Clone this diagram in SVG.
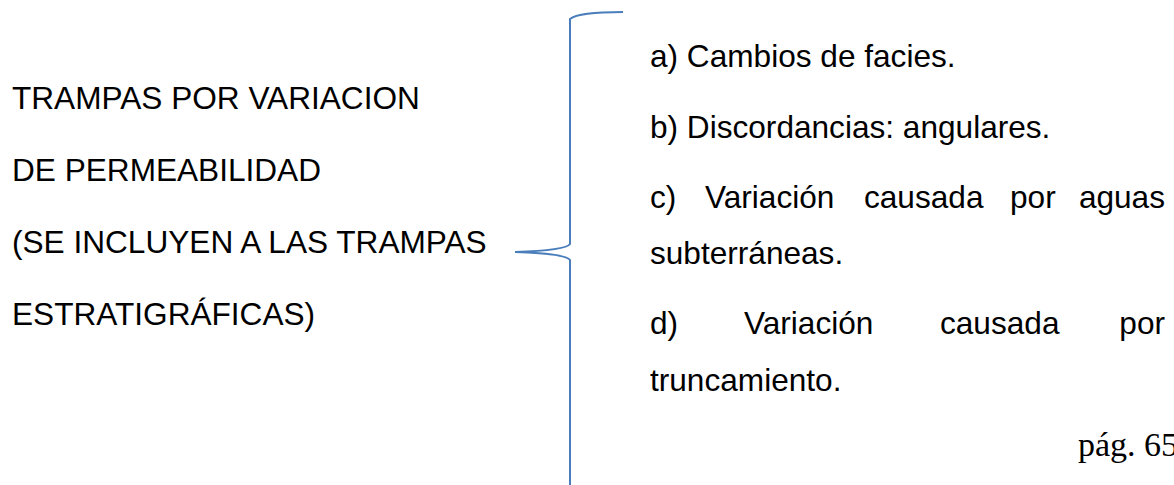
<svg xmlns="http://www.w3.org/2000/svg" width="1174" height="485" viewBox="0 0 1174 485">
<style>
.t{font-family:"Liberation Sans",Arial,sans-serif;font-size:31.6px;fill:#000}
.s{font-family:"Liberation Serif","Times New Roman",serif;font-size:34px;fill:#000}
.br{fill:none;stroke:#4a7ebb;stroke-width:2}
</style>
<rect width="1174" height="485" fill="#fff"/>
<g id="left-node">
<text class="t" x="12" y="109">TRAMPAS POR VARIACION</text>
<text class="t" x="12" y="181">DE PERMEABILIDAD</text>
<text class="t" x="12" y="253">(SE INCLUYEN A LAS TRAMPAS</text>
<text class="t" x="12" y="325">ESTRATIGRÁFICAS)</text>
</g>
<g id="connectors">
<path class="br" d="M623,12 C597,12 576,14 570,19 L570,244 C567,249 545,251 515,252 C545,253 567,255 570,260 L570,485"/>
</g>
<g id="right-node">
<text class="t" x="650" y="67">a) Cambios de facies.</text>
<text class="t" x="650" y="138">b) Discordancias: angulares.</text>
<text class="t" y="208"><tspan x="650">c)</tspan><tspan x="705">Variación</tspan><tspan x="864">causada</tspan><tspan x="1010">por</tspan><tspan x="1165" text-anchor="end">aguas</tspan></text>
<text class="t" x="650" y="264">subterráneas.</text>
<text class="t" y="334"><tspan x="650">d)</tspan><tspan x="744">Variación</tspan><tspan x="940">causada</tspan><tspan x="1165" text-anchor="end">por</tspan></text>
<text class="t" x="650" y="391">truncamiento.</text>
<text class="s" x="1078" y="456">pág. 65</text>
</g>
</svg>
